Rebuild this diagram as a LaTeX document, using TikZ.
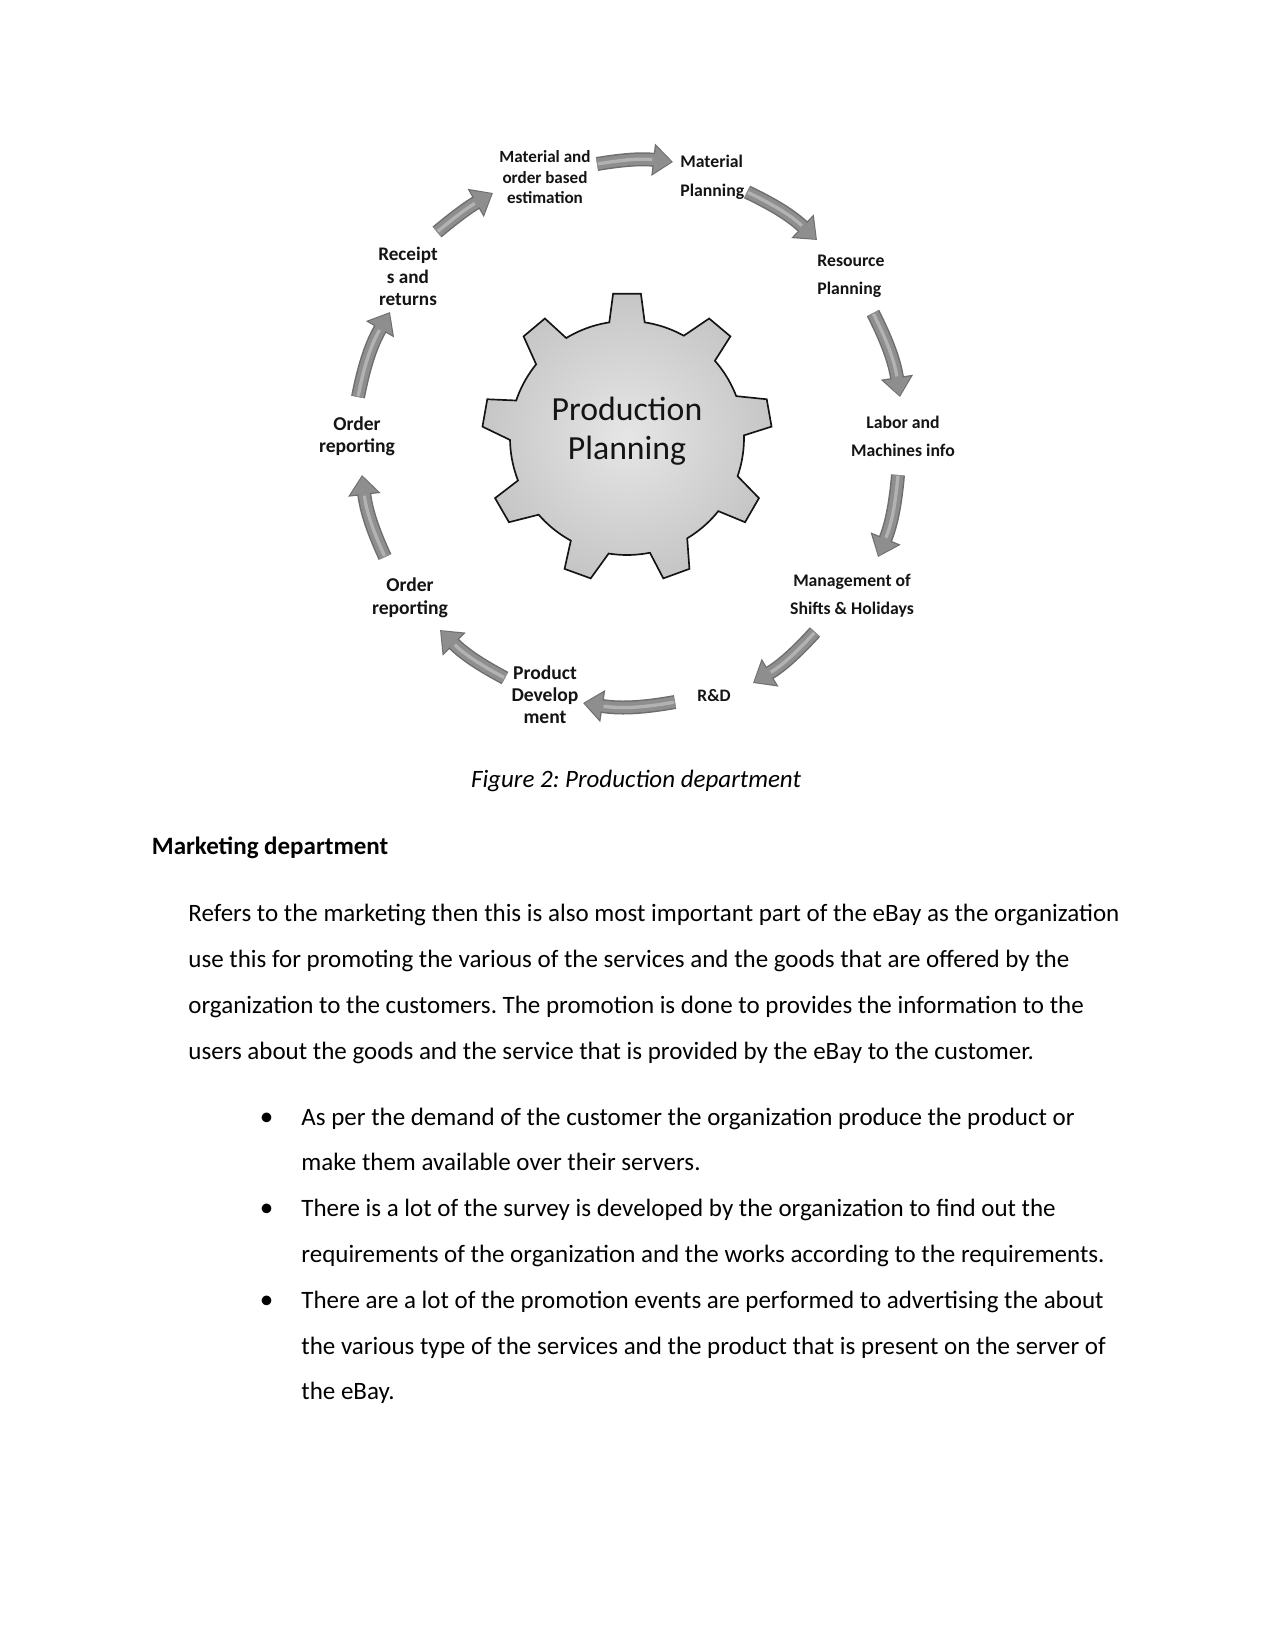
\documentclass[tikz,border=0pt]{standalone}
\usepackage{fontspec}
\setmainfont{Carlito}
\usetikzlibrary{arrows.meta}
\frenchspacing
\definecolor{arredge}{HTML}{6E6E6E}
\definecolor{arrbody}{HTML}{8E8E8E}
\definecolor{arrhi}{HTML}{B2B2B2}
\definecolor{gearin}{HTML}{E6E6E6}
\definecolor{gearout}{HTML}{C6C6C6}
\definecolor{ink}{HTML}{141414}
\begin{document}
\begin{tikzpicture}[x=0.48pt,y=-0.48pt,
  lbl/.style 2 args={font=\bfseries\fontsize{#1}{#2}\selectfont, align=center, text=ink, inner sep=0pt},
  bodytext/.style={anchor=base west, font=\fontsize{12}{14.4}\selectfont, inner sep=0pt, text=black},
  bulletmark/.style={anchor=base, font=\fontsize{13}{14.4}\selectfont, inner sep=0pt, text=black},
  arrowedge/.style={draw=arredge, line width=6.72pt, -{Triangle[width=15pt,length=9.6pt]}},
  arrowbody/.style={draw=arrbody, line width=5.3pt, shorten >=0.7pt, -{Triangle[width=12.6pt,length=8.3pt]}},
  arrowhl/.style={draw=arrhi, line width=1.6pt, shorten >=10pt, shorten <=0.5pt},
  gearshape/.style={draw=ink, line width=0.8pt, line join=miter, inner color=gearin, outer color=gearout}
]
\fill[white] (0,0) rectangle (1275,1651);
\useasboundingbox (0,0) rectangle (1275,1651);

% ---------- gear ----------
\begin{scope}[shift={(627,438)}]
\path[gearshape] (261.3:117)
  \foreach \k in {0,...,8}{
    -- ({270+40*\k-5.5}:145) -- ({270+40*\k+5.5}:145) -- ({270+40*\k+8.7}:117)
    \foreach \t in {1,...,9}{ -- ({270+40*\k+8.7+\t*2.26}:117) }
  } -- cycle;
\end{scope}
\node[font=\fontsize{16.2}{18.6}\selectfont, align=center, text=ink, inner sep=0pt] (gear) at (627,431) {Production\\Planning};

% ---------- labels ----------
\node[lbl={8.2}{9.84}] (matest) at (545,177.5) {Material and\\order based\\estimation};
\node[lbl={8.5}{13.7}, align=left, anchor=west] (matplan) at (680,177.5) {Material\\Planning};
\node[lbl={8.5}{13.4}, align=left, anchor=west] (resplan) at (817,276) {Resource\\Planning};
\node[lbl={8.5}{13.4}] (labor) at (903,436) {Labor and\\Machines info};
\node[lbl={8.5}{13.4}] (mgmt) at (852,596) {Management of\\Shifts \& Holidays};
\node[lbl={8.4}{10}] (rd) at (714,696) {R\&D};
\node[lbl={9.4}{10.6}] (pdev) at (545,695) {Product\\Develop\\ment};
\node[lbl={9.4}{11}] (ordrep2) at (410,597.5) {Order\\reporting};
\node[lbl={9.4}{10.6}] (ordrep1) at (357,436) {Order\\reporting};
\node[lbl={9.2}{10.8}] (receipts) at (408,276.5) {Receipt\\s and\\returns};

% ---------- arrow end points ----------
\coordinate (t1) at (358,397);  \coordinate (h1) at (390,312);
\coordinate (t2) at (437,232);  \coordinate (h2) at (493,193);
\coordinate (t3) at (597,164);  \coordinate (h3) at (673,162);
\coordinate (t4) at (747,192);  \coordinate (h4) at (817,240);
\coordinate (t5) at (873,313);  \coordinate (h5) at (900,397);
\coordinate (t6) at (898,475);  \coordinate (h6) at (878,557);
\coordinate (t7) at (815,632);  \coordinate (h7) at (753,683);
\coordinate (t8) at (675,702);  \coordinate (h8) at (583,703);
\coordinate (t9) at (505,678);  \coordinate (h9) at (440,630);
\coordinate (t10) at (385,557); \coordinate (h10) at (362,475);

\foreach \i/\b in {1/9.5,2/5,3/8,4/9,5/9,6/8.7,7/8.3,8/9.5,9/8.5,10/9}{
  \draw[arrowedge] (t\i) to[bend left=\b] (h\i);
  \draw[arrowbody] (t\i) to[bend left=\b] (h\i);
  \draw[arrowhl] (t\i) to[bend left=\b] (h\i);
}

% ---------- caption and text ----------
\node[anchor=base, font=\itshape\fontsize{12}{14.4}\selectfont, inner sep=0pt] (cap) at (636,787) {Figure 2: Production department};
\node[anchor=base west, font=\bfseries\fontsize{12}{14.4}\selectfont, inner sep=0pt] (mkt) at (151.5,854.3) {Marketing department};

\node[bodytext] (p1) at (188,921.7) {Refers to the marketing then this is also most important part of the eBay as the organization};
\node[bodytext] (p2) at (188,967.5) {use this for promoting the various of the services and the goods that are offered by the};
\node[bodytext] (p3) at (188,1013.3) {organization to the customers. The promotion is done to provides the information to the};
\node[bodytext] (p4) at (188,1059.1) {users about the goods and the service that is provided by the eBay to the customer.};

\node[bulletmark] (bu1) at (266.7,1125) {•};
\node[bulletmark] (bu2) at (266.7,1216.6) {•};
\node[bulletmark] (bu3) at (266.7,1308.2) {•};

\node[bodytext] (l1) at (301,1125) {As per the demand of the customer the organization produce the product or};
\node[bodytext] (l2) at (301,1170.8) {make them available over their servers.};
\node[bodytext] (l3) at (301,1216.6) {There is a lot of the survey is developed by the organization to find out the};
\node[bodytext] (l4) at (301,1262.4) {requirements of the organization and the works according to the requirements.};
\node[bodytext] (l5) at (301,1308.2) {There are a lot of the promotion events are performed to advertising the about};
\node[bodytext] (l6) at (301,1354) {the various type of the services and the product that is present on the server of};
\node[bodytext] (l7) at (301,1399.8) {the eBay.};
\end{tikzpicture}
\end{document}
